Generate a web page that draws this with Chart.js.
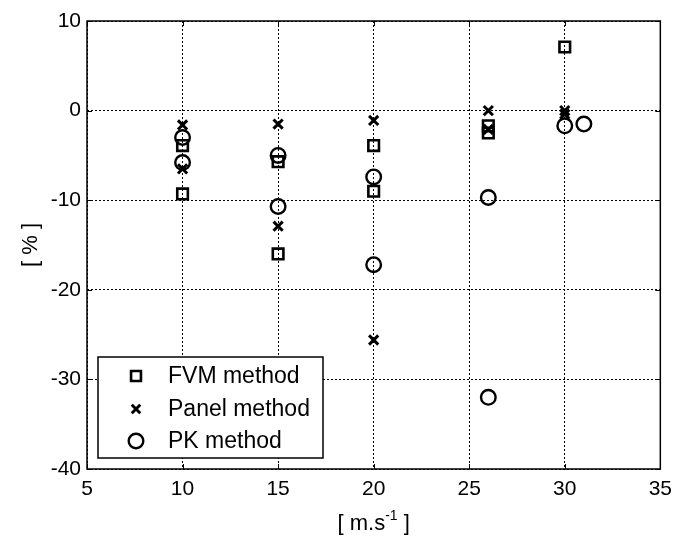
<!DOCTYPE html>
<html>
<head>
<meta charset="utf-8">
<script src="https://cdn.jsdelivr.net/npm/chart.js@4"></script>
<style>
  body { margin: 0; background: #fff; }
  canvas { display: block; }
</style>
</head>
<body>
<canvas id="chart" width="680" height="536"></canvas>
<script>
// speeds [m/s] and errors [%]
const fvmX = [10, 10, 15, 15, 20, 20, 26, 26, 30];
const fvmY = [-3.9, -9.3, -5.7, -16.0, -3.9, -9.0, -1.7, -2.5, 7.1];

const panelX = [10, 10, 15, 15, 20, 20, 26, 26, 30, 30];
const panelY = [-1.6, -6.5, -1.5, -12.9, -1.1, -25.6, 0.0, -2.1, 0.0, -0.4];

const pkX = [10, 10, 15, 15, 20, 20, 26, 26, 30, 31];
const pkY = [-3.0, -5.8, -5.0, -10.7, -7.4, -17.2, -9.7, -32.0, -1.7, -1.5];

const xTicks = [5, 10, 15, 20, 25, 30, 35];
const yTicks = [-40, -30, -20, -10, 0, 10];

const seriesNames = ['FVM method', 'Panel method', 'PK method'];

const FONT = "'Liberation Sans', Arial, sans-serif";

const toPoints = (xs, ys) => xs.map((x, i) => ({ x, y: ys[i] }));

// frame, inward tick marks, legend box and x title (MATLAB look)
const matlabFrame = {
  id: 'matlabFrame',
  afterDraw(chart) {
    const ctx = chart.ctx;
    const a = chart.chartArea;
    const xs = chart.scales.x, ys = chart.scales.y;
    ctx.save();
    ctx.strokeStyle = '#000';
    ctx.lineWidth = 1.5;
    ctx.setLineDash([]);
    ctx.strokeRect(a.left, a.top, a.right - a.left, a.bottom - a.top);

    ctx.lineWidth = 1;
    ctx.beginPath();
    xTicks.forEach(v => {
      const px = Math.round(xs.getPixelForValue(v)) + 0.5;
      ctx.moveTo(px, a.bottom); ctx.lineTo(px, a.bottom - 5);
      ctx.moveTo(px, a.top); ctx.lineTo(px, a.top + 5);
    });
    yTicks.forEach(v => {
      const py = Math.round(ys.getPixelForValue(v)) + 0.5;
      ctx.moveTo(a.left, py); ctx.lineTo(a.left + 5, py);
      ctx.moveTo(a.right, py); ctx.lineTo(a.right - 5, py);
    });
    ctx.stroke();

    // legend
    const lx = 98, ly = 357, lw = 225, lh = 101;
    ctx.fillStyle = '#fff';
    ctx.fillRect(lx, ly, lw, lh);
    ctx.lineWidth = 1.5;
    ctx.strokeRect(lx, ly, lw, lh);
    const rows = [376, 409, 441];
    chart.data.datasets.forEach((ds, i) => {
      const y = rows[i];
      ctx.lineWidth = ds.borderWidth;
      ctx.strokeStyle = '#000';
      ctx.fillStyle = 'rgba(0,0,0,0)';
      Chart.helpers.drawPoint(ctx, {
        pointStyle: ds.pointStyle,
        radius: ds.legendRadius,
        borderWidth: ds.borderWidth,
        rotation: 0
      }, 136, y);
      ctx.fillStyle = '#000';
      ctx.font = '23px ' + FONT;
      ctx.textAlign = 'left';
      ctx.textBaseline = 'middle';
      ctx.fillText(seriesNames[i], 168, y + 1);
    });

    // x axis title with superscript
    const cx = (a.left + a.right) / 2;
    ctx.fillStyle = '#000';
    ctx.textBaseline = 'alphabetic';
    ctx.textAlign = 'left';
    const p1 = '[ m.s', p3 = ' ]';
    ctx.font = '14px ' + FONT;
    const w2 = ctx.measureText('-1').width;
    ctx.font = '22px ' + FONT;
    const w1 = ctx.measureText(p1).width, w3 = ctx.measureText(p3).width;
    const x0 = cx - (w1 + w2 + w3) / 2;
    const base = 530;
    ctx.fillText(p1, x0, base);
    ctx.font = '14px ' + FONT;
    ctx.fillText('-1', x0 + w1, base - 10);
    ctx.font = '22px ' + FONT;
    ctx.fillText(p3, x0 + w1 + w2, base);
    ctx.restore();
  }
};

const ctx = document.getElementById('chart').getContext('2d');

new Chart(ctx, {
  type: 'scatter',
  data: {
    datasets: [
      {
        label: seriesNames[0],
        data: toPoints(fvmX, fvmY),
        pointStyle: 'rect',
        pointRadius: 7.5,
        legendRadius: 7,
        borderWidth: 2.6,
        borderColor: '#000',
        backgroundColor: 'rgba(0,0,0,0)'
      },
      {
        label: seriesNames[1],
        data: toPoints(panelX, panelY),
        pointStyle: 'crossRot',
        pointRadius: 6.5,
        legendRadius: 6,
        borderWidth: 3,
        borderColor: '#000',
        backgroundColor: 'rgba(0,0,0,0)'
      },
      {
        label: seriesNames[2],
        data: toPoints(pkX, pkY),
        pointStyle: 'circle',
        pointRadius: 7.3,
        legendRadius: 7.3,
        borderWidth: 2.4,
        borderColor: '#000',
        backgroundColor: 'rgba(0,0,0,0)'
      }
    ]
  },
  options: {
    responsive: false,
    animation: false,
    layout: { padding: { top: 21, right: 14, left: 0, bottom: 0 } },
    plugins: {
      legend: { display: false },
      tooltip: { enabled: false }
    },
    scales: {
      x: {
        type: 'linear',
        min: 5,
        max: 35,
        afterBuildTicks: s => { s.ticks = xTicks.map(v => ({ value: v })); },
        afterFit: s => { s.height = 67; },
        grid: {
          color: '#000',
          lineWidth: 1,
          drawTicks: false
        },
        border: { display: false, dash: [2, 2] },
        ticks: {
          color: '#000',
          padding: 8,
          maxRotation: 0,
          font: { family: FONT, size: 21 }
        }
      },
      y: {
        type: 'linear',
        min: -40,
        max: 10,
        afterBuildTicks: s => { s.ticks = yTicks.map(v => ({ value: v })); },
        afterFit: s => { s.width = 87; },
        grid: {
          color: '#000',
          lineWidth: 1,
          drawTicks: false
        },
        border: { display: false, dash: [2, 2] },
        ticks: {
          color: '#000',
          padding: 6,
          font: { family: FONT, size: 21 }
        },
        title: {
          display: true,
          text: '[ % ]',
          color: '#000',
          padding: { top: 18, bottom: 0 },
          font: { family: FONT, size: 22 }
        }
      }
    }
  },
  plugins: [matlabFrame]
});
</script>
</body>
</html>
